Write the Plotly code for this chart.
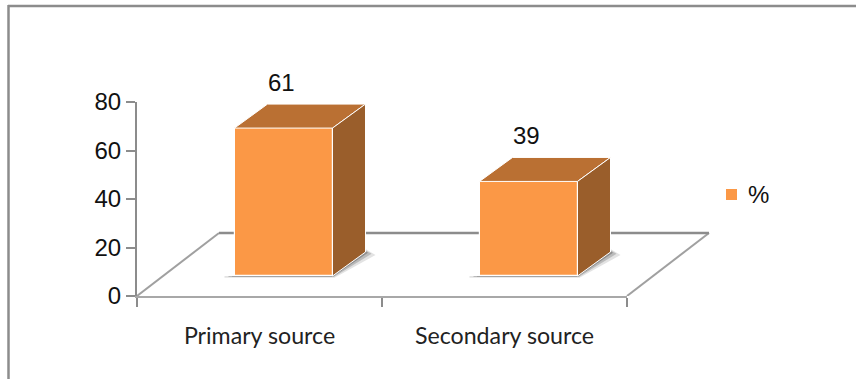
import plotly.graph_objects as go

categories = ["Primary source", "Secondary source"]
values = [61, 39]
y_ticks = [0, 20, 40, 60, 80]
series_name = "%"

W, H = 856, 379
FONT = "Liberation Sans"
CAT_FONT = "Lato"
FRONT = "#FB9846"
TOP = "#BA7033"
SIDE = "#9A5E2B"
GREY = "#8C8C8C"

# pixel frame of the value axis and the floor
x0_px, x1_px, x_far_px = 137, 627, 730
y0_px, y1_px = 296, 102
unit_x = (x1_px - x0_px) / 2
unit_y = (y0_px - y1_px) / 80

# depth offsets of the pseudo-3D view, in axis units
floor_dx, floor_dy = 82 / unit_x, 63 / unit_y
bar_dx, bar_dy = 33 / unit_x, 24 / unit_y
bar_base = 20 / unit_y
bar_left = -0.102
bar_width = 0.4

x_far = -0.5 + (x_far_px - x0_px) / unit_x

fig = go.Figure()

# empty trace keeps the labelled category axis on the layout
fig.add_trace(go.Scatter(x=[], y=[], xaxis="x", yaxis="y", showlegend=False))

xs = list(range(len(values)))
fig.add_trace(go.Bar(
    x=xs, y=values, base=[bar_base] * len(values),
    offset=bar_left, width=bar_width,
    marker=dict(color=FRONT, line=dict(color="white", width=1.2)),
    name=series_name, xaxis="x2", yaxis="y", showlegend=False,
))

shapes = []
# floor outline sits behind the bars
fl, fr = -0.5, 1.5
shapes.append(dict(type="line", xref="x2", yref="y", layer="below",
                   x0=fl, y0=0, x1=fl + floor_dx, y1=floor_dy,
                   line=dict(color="#A0A0A0", width=2)))
shapes.append(dict(type="line", xref="x2", yref="y", layer="below",
                   x0=fr, y0=0, x1=fr + floor_dx, y1=floor_dy,
                   line=dict(color="#A0A0A0", width=2)))
shapes.append(dict(type="line", xref="x2", yref="y", layer="below",
                   x0=fl + floor_dx, y0=floor_dy, x1=fr + floor_dx, y1=floor_dy,
                   line=dict(color=GREY, width=2.5)))

annotations = []
for i, v in enumerate(values):
    l = i + bar_left
    r = l + bar_width
    top = bar_base + v
    # soft contact shadow under the bar
    for grow, alpha in ((1.0, 0.14), (0.6, 0.24), (0.25, 0.34)):
        gx, gy = grow * 10 / unit_x, grow * 3 / unit_y
        pts = [(l - gx, bar_base - gy * 0.6), (r + gx * 0.2, bar_base - gy * 0.6),
               (r + bar_dx + gx, bar_base + bar_dy - gy), (r + bar_dx, bar_base + bar_dy + gy),
               (r, bar_base), (l - gx, bar_base)]
        path = "M " + " L ".join(f"{a:.4f},{b:.3f}" for a, b in pts) + " Z"
        shapes.append(dict(type="path", xref="x2", yref="y", layer="below", path=path,
                           fillcolor=f"rgba(60,60,60,{alpha})", line=dict(width=0)))
    # top and side faces of the box
    fig.add_trace(go.Scatter(
        x=[l, l + bar_dx, r + bar_dx, r, l], y=[top, top + bar_dy, top + bar_dy, top, top],
        mode="lines", fill="toself", fillcolor=TOP, line=dict(color="white", width=1),
        xaxis="x2", yaxis="y", showlegend=False, hoverinfo="skip"))
    fig.add_trace(go.Scatter(
        x=[r, r + bar_dx, r + bar_dx, r, r],
        y=[bar_base, bar_base + bar_dy, top + bar_dy, top, bar_base],
        mode="lines", fill="toself", fillcolor=SIDE, line=dict(color="white", width=1),
        xaxis="x2", yaxis="y", showlegend=False, hoverinfo="skip"))
    # value label above the box
    annotations.append(dict(
        text=str(v), xref="x2", yref="y", showarrow=False,
        x=l + bar_width * 0.5 - 0.01, y=top + bar_dy,
        xanchor="center", yanchor="bottom", yshift=6,
        font=dict(family=FONT, size=24, color="#111111")))

# the frame shows only on its left and top sides
shapes.append(dict(type="line", xref="paper", yref="paper",
                   x0=8.5 / W, x1=8.5 / W, y0=0, y1=1 - 5 / H,
                   line=dict(color=GREY, width=2.5)))
shapes.append(dict(type="line", xref="paper", yref="paper",
                   x0=8 / W, x1=1, y0=1 - 6 / H, y1=1 - 6 / H,
                   line=dict(color=GREY, width=2.5)))

# series key to the right of the floor
shapes.append(dict(type="rect", xref="paper", yref="paper", layer="above",
                   x0=726 / W, x1=737 / W, y0=1 - 200 / H, y1=1 - 189 / H,
                   fillcolor=FRONT, line=dict(width=0)))
annotations.append(dict(text=series_name, xref="paper", yref="paper", showarrow=False,
                        x=745.5 / W, y=1 - 194 / H, xanchor="left", yanchor="middle",
                        font=dict(family=FONT, size=24, color="#111111")))

fig.update_layout(
    width=W, height=H, autosize=False,
    margin=dict(l=0, r=0, t=0, b=0, autoexpand=False),
    paper_bgcolor="white", plot_bgcolor="rgba(0,0,0,0)",
    shapes=shapes, annotations=annotations, bargap=0,
    font=dict(family=FONT, size=24, color="#111111"),
    showlegend=False,
    xaxis=dict(domain=[x0_px / W, x1_px / W], range=[-0.5, 1.5],
               tickmode="array", tickvals=xs, ticktext=categories,
               ticks="", showgrid=False, zeroline=False, showline=True,
               linecolor="#A8A8A8", linewidth=2, anchor="y",
               tickfont=dict(family=CAT_FONT, size=23.2, color="#222222"), ticklabelstandoff=18,
               minor=dict(tickmode="array", tickvals=[-0.5, 0.5, 1.5], ticks="outside",
                          ticklen=9, tickwidth=2, tickcolor=GREY, showgrid=False)),
    xaxis2=dict(domain=[x0_px / W, x_far_px / W], range=[-0.5, x_far],
                visible=False, anchor="y"),
    yaxis=dict(domain=[1 - y0_px / H, 1 - y1_px / H], range=[0, 80],
               tickmode="array", tickvals=y_ticks, ticks="outside", ticklen=9, tickwidth=2,
               tickcolor=GREY, showgrid=False, zeroline=False, showline=True,
               linecolor=GREY, linewidth=2, anchor="x",
               tickfont=dict(family=FONT, size=24, color="#111111"), ticklabelstandoff=0),
)

fig.write_html("out.html")
